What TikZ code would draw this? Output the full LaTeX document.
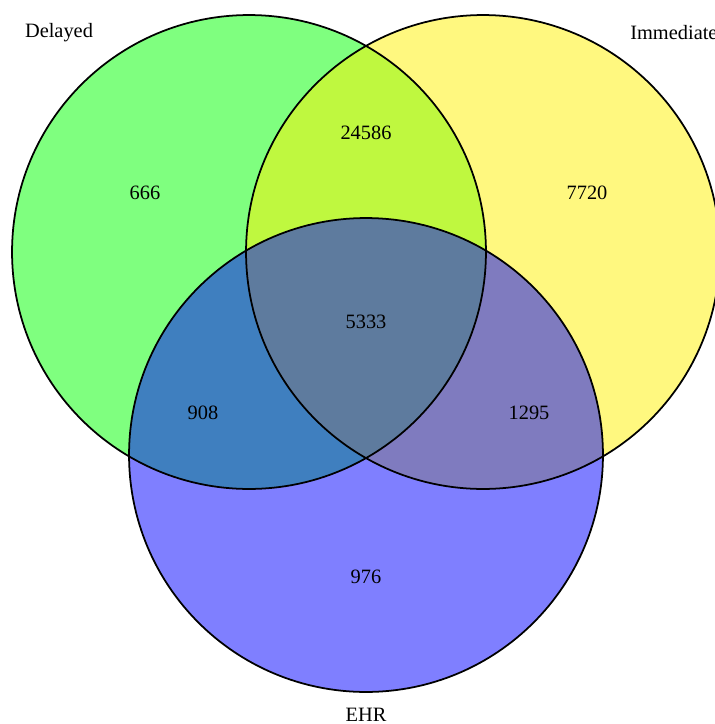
\documentclass[tikz,border=0pt]{standalone}
\usepackage{fontspec}
\setmainfont{Liberation Serif}

\begin{document}
\begin{tikzpicture}[x=0.02cm,y=-0.02cm]
\tikzset{setfill/.style={fill opacity=0.5},
  setline/.style={black, line width=1pt},
  lbl/.style={font=\fontsize{11.6}{14}\selectfont}}
\useasboundingbox (0,0) rectangle (714,724);
\coordinate (cdel) at (249,252);
\coordinate (cimm) at (483,252);
\coordinate (cehr) at (366,455);
\fill[green,setfill] (cdel) circle[radius=4.74cm];
\fill[yellow,setfill] (cimm) circle[radius=4.74cm];
\fill[blue,setfill] (cehr) circle[radius=4.74cm];
\draw[setline] (cdel) circle[radius=4.74cm];
\draw[setline] (cimm) circle[radius=4.74cm];
\draw[setline] (cehr) circle[radius=4.74cm];
\node[lbl] (ldel) at (59,33) {Delayed};
\node[lbl,anchor=west,inner sep=0pt] (limm) at (630,33) {Immediate};
\node[lbl] (lehr) at (366,715) {EHR};
\node[lbl] (n666) at (145,193) {666};
\node[lbl] (n24586) at (366,133) {24586};
\node[lbl] (n7720) at (587,193) {7720};
\node[lbl] (n5333) at (366,322) {5333};
\node[lbl] (n908) at (203,413) {908};
\node[lbl] (n1295) at (529,413) {1295};
\node[lbl] (n976) at (366,577) {976};
\end{tikzpicture}
\end{document}
